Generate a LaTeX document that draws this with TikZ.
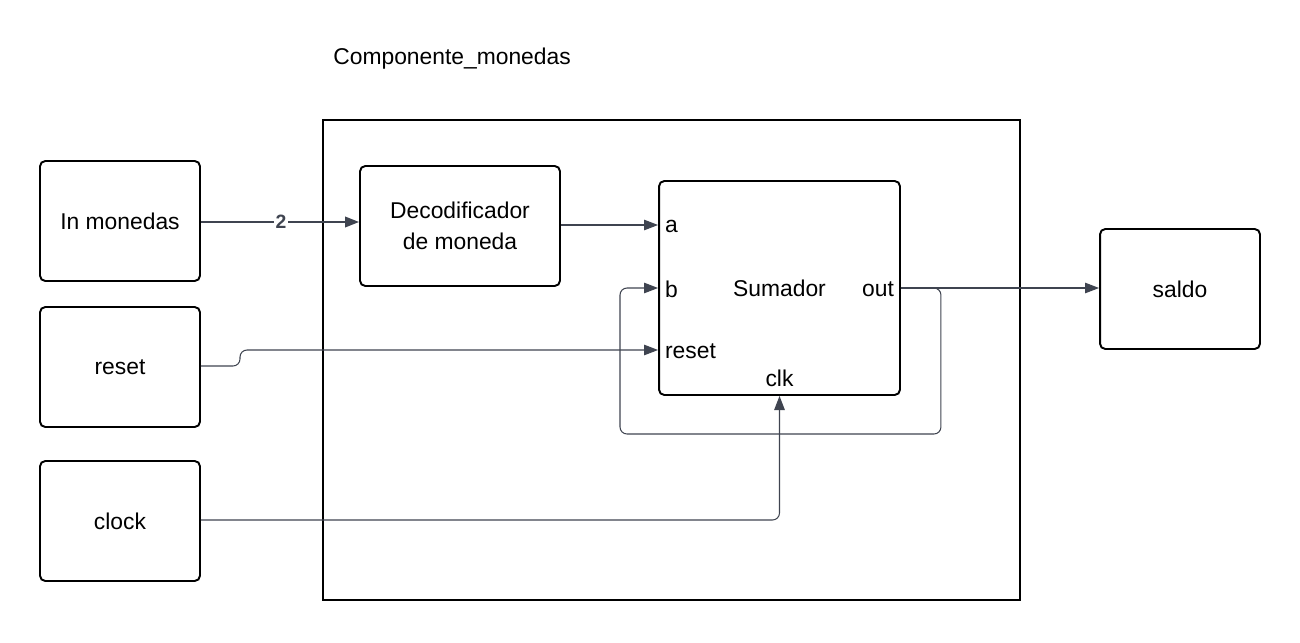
\documentclass[tikz,border=0pt]{standalone}
\usepackage{fontspec}
\setmainfont{Liberation Sans}
\usetikzlibrary{arrows.meta}
\definecolor{wirecol}{HTML}{3F4450}
\tikzset{
	blk/.style={draw,line width=1.1pt,rounded corners=3pt,align=center,font=\fontsize{13}{18}\selectfont},
	wire/.style={draw=wirecol,line width=0.6pt},
	tip/.style={-{Triangle[length=8pt,width=6pt]}},
	port/.style={inner sep=1pt,font=\fontsize{13}{15}\selectfont}
}
\begin{document}
\begin{tikzpicture}[x=0.02cm,y=-0.02cm]
	\useasboundingbox (0,0) rectangle (1300,642);
	\node [font=\fontsize{13}{15}\selectfont,anchor=west,inner sep=0pt] (title) at (333,59) {Componente\_monedas};
	\node [draw,line width=1.1pt,minimum width=13.94cm,minimum height=9.6cm] (cont) at (671.5,360) {};

	\node [blk,minimum width=3.2cm,minimum height=2.4cm] (inm) at (120,221) {In monedas};
	\node [blk,minimum width=3.2cm,minimum height=2.4cm] (rst) at (120,367) {reset};
	\node [blk,minimum width=3.2cm,minimum height=2.4cm] (clock) at (120,521) {clock};
	\node [blk,minimum width=4cm,minimum height=2.4cm] (dec) at (460,226) {Decodificador\\de moneda};
	\node [blk,minimum width=4.82cm,minimum height=4.28cm] (su) at (779.5,288) {Sumador};
	\node [blk,minimum width=3.2cm,minimum height=2.4cm] (saldo) at (1180,289) {saldo};

	\node [port,anchor=west] (pa) at (663,226) {a};
	\node [port,anchor=west] (pb) at (663,289) {b};
	\node [port,anchor=west] (prst) at (663,351) {reset};
	\node [port,anchor=east] (pout) at (896,289) {out};
	\node [port] (pclk) at (779.5,378) {clk};

	\coordinate (two) at (281,222);
	\draw [wire] (inm.east |- two) -- (two);
	\draw [wirecol,line width=1.2pt,tip] (two) -- (dec.west |- two);
	\node [fill=white,inner sep=1pt,text=wirecol,font=\bfseries\fontsize{11}{13}\selectfont] at (two) {2};
	\draw [wire,tip] (dec.east |- 0,225) -- (su.west |- 0,225);
	\draw [wire,tip,rounded corners=4pt] (rst.east |- 0,366) -- (240,366) -- (240,350) -- (su.west |- 0,350);
	\draw [wire,tip] (su.east) -- (saldo.west |- su.east);
	\draw [wire,tip,rounded corners=4pt] (su.east) -- ++(40,0) -- ++(0,146) -- (620,434) -- (620,288) -- (su.west);
	\draw [wire,tip,rounded corners=4pt] (clock.east |- 0,520) -| (su.south);
\end{tikzpicture}
\end{document}
